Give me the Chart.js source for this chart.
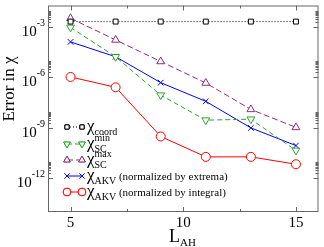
<!DOCTYPE html>
<html>
<head>
<meta charset="utf-8">
<script src="https://cdn.jsdelivr.net/npm/chart.js@4"></script>
<style>
  html, body { margin: 0; padding: 0; background: #fff; }
  #wrap { width: 324px; height: 247px; }
</style>
</head>
<body>
<div id="wrap"><canvas id="errChart"></canvas></div>
<script>
// data
const lah = [5, 7, 9, 11, 13, 15];
const errCoord = [2.1e-3, 2.1e-3, 2.1e-3, 2.1e-3, 2.1e-3, 2.1e-3];
const errScMin = [9.5e-4, 1.7e-5, 8.9e-8, 2.9e-9, 3.3e-9, 4.6e-11];
const errScMax = [3.3e-3, 1.7e-4, 8.9e-6, 4.7e-7, 1.26e-8, 1.07e-9];
const errAkvExt = [1.3e-4, 1.7e-5, 4.9e-7, 3.8e-8, 1.0e-9, 8.9e-11];
const errAkvInt = [1.07e-6, 2.6e-7, 3.1e-10, 1.9e-11, 1.9e-11, 6.9e-12];

const xMajor = [5, 10, 15];
const xMinor = [7.5, 12.5];
const yMajorExp = [-3, -6, -9, -12];

const SERIF = "'Liberation Serif', 'DejaVu Serif', serif";
const GREEN = '#2aa52a';
const PURPLE = '#8c2d80';

function pts(ys) {
    return lah.map((x, i) => ({ x: x, y: ys[i] }));
}

const series = [
    { data: errCoord, color: '#000', dash: [1, 2], style: 'rect', r: 3.5, rot: 0 },
    { data: errScMin, color: GREEN, dash: [5, 3], style: 'triangle', r: 4.5, rot: 180 },
    { data: errScMax, color: PURPLE, dash: [6, 3], style: 'triangle', r: 4.5, rot: 0 },
    { data: errAkvExt, color: '#0000ff', dash: [], style: 'crossRot', r: 4, rot: 0 },
    { data: errAkvInt, color: '#ff0000', dash: [], style: 'circle', r: 4.5, rot: 0 }
];

function font(size) {
    return size + 'px ' + SERIF;
}

// draw a run of text pieces: {t, size, dy} or {stack: [sup, sub], size}
function drawRich(ctx, parts, x, y) {
    ctx.textBaseline = 'alphabetic';
    ctx.textAlign = 'left';
    for (const p of parts) {
        ctx.font = font(p.size);
        if (p.stack) {
            const w1 = ctx.measureText(p.stack[0]).width;
            const w2 = ctx.measureText(p.stack[1]).width;
            ctx.fillText(p.stack[0], x, y - 7);
            ctx.fillText(p.stack[1], x, y + 4);
            x += Math.max(w1, w2);
            continue;
        }
        ctx.fillText(p.t, x, y + (p.dy || 0));
        x += ctx.measureText(p.t).width;
    }
}

const legendRows = [
    [{ t: 'χ', size: 17 }, { t: 'coord', size: 10, dy: 4 }],
    [{ t: 'χ', size: 17 }, { stack: ['min', 'SC'], size: 10 }],
    [{ t: 'χ', size: 17 }, { stack: ['max', 'SC'], size: 10 }],
    [{ t: 'χ', size: 17 }, { t: 'AKV', size: 10, dy: 4 }, { t: ' (normalized by extrema)', size: 11 }],
    [{ t: 'χ', size: 17 }, { t: 'AKV', size: 10, dy: 4 }, { t: ' (normalized by integral)', size: 11 }]
];

const decor = {
    id: 'decor',
    afterDraw(chart) {
        const ctx = chart.ctx;
        const a = chart.chartArea;
        const xs = chart.scales.x, ys = chart.scales.y;
        ctx.save();
        ctx.strokeStyle = '#666';
        ctx.lineWidth = 1;
        ctx.strokeRect(a.left + 0.5, a.top + 0.5, a.right - a.left - 1, a.bottom - a.top - 1);

        // x ticks, top and bottom, pointing inward
        ctx.beginPath();
        for (const v of xMajor.concat(xMinor)) {
            const px = Math.round(xs.getPixelForValue(v)) + 0.5;
            const len = xMajor.includes(v) ? 5 : 3;
            ctx.moveTo(px, a.bottom); ctx.lineTo(px, a.bottom - len);
            ctx.moveTo(px, a.top); ctx.lineTo(px, a.top + len);
        }
        // y ticks, left and right
        for (const e of yMajorExp) {
            const py = Math.round(ys.getPixelForValue(Math.pow(10, e))) + 0.5;
            ctx.moveTo(a.left, py); ctx.lineTo(a.left + 5, py);
            ctx.moveTo(a.right, py); ctx.lineTo(a.right - 5, py);
            for (let k = 2; k <= 9; k++) {
                const pm = Math.round(ys.getPixelForValue(k * Math.pow(10, e))) + 0.5;
                ctx.moveTo(a.left, pm); ctx.lineTo(a.left + 3, pm);
                ctx.moveTo(a.right, pm); ctx.lineTo(a.right - 3, pm);
            }
        }
        ctx.stroke();

        ctx.fillStyle = '#000';
        // x tick labels
        ctx.font = font(15);
        ctx.textAlign = 'center';
        ctx.textBaseline = 'top';
        for (const v of xMajor) {
            ctx.fillText(String(v), xs.getPixelForValue(v), a.bottom + 4);
        }
        // y tick labels 10^e
        for (const e of yMajorExp) {
            const py = ys.getPixelForValue(Math.pow(10, e));
            ctx.font = font(10);
            const sup = '-' + Math.abs(e);
            const ws = ctx.measureText(sup).width;
            ctx.font = font(15);
            const wb = ctx.measureText('10').width;
            const x0 = a.left - 3 - ws - wb;
            ctx.textAlign = 'left';
            ctx.textBaseline = 'alphabetic';
            ctx.fillText('10', x0, py + 9);
            ctx.font = font(10);
            ctx.fillText(sup, x0 + wb, py - 1);
        }

        // axis titles
        drawRich(ctx, [{ t: 'L', size: 18 }, { t: 'AH', size: 11, dy: 4 }], 169, 242);
        ctx.save();
        ctx.translate(14, 89);
        ctx.rotate(-Math.PI / 2);
        ctx.font = font(17);
        const tw = ctx.measureText('Error in χ').width;
        ctx.fillText('Error in χ', -tw / 2, 0);
        ctx.restore();

        // legend
        const rowY = [127, 144, 160, 176, 192];
        series.forEach((s, i) => {
            const y = rowY[i];
            ctx.save();
            ctx.strokeStyle = s.color;
            ctx.lineWidth = 1;
            ctx.setLineDash(s.dash);
            ctx.beginPath();
            ctx.moveTo(67, y); ctx.lineTo(82, y);
            ctx.stroke();
            ctx.setLineDash([]);
            const opt = { pointStyle: s.style, radius: s.r * 0.85, rotation: s.rot, borderWidth: 1 };
            ctx.fillStyle = '#fff';
            for (const mx of [67, 82]) {
                Chart.helpers.drawPoint(ctx, opt, mx, y);
                ctx.fill();
                ctx.stroke();
            }
            ctx.restore();
            ctx.fillStyle = '#000';
            drawRich(ctx, legendRows[i], 87, y + 4);
        });
        ctx.restore();
    }
};

new Chart(document.getElementById('errChart'), {
    type: 'line',
    data: {
        datasets: series.map(s => ({
            data: pts(s.data),
            borderColor: s.color,
            backgroundColor: '#fff',
            borderWidth: 1,
            borderDash: s.dash,
            pointStyle: s.style,
            pointRadius: s.r,
            pointRotation: s.rot,
            pointBorderColor: s.color,
            pointBackgroundColor: '#fff',
            pointBorderWidth: 1,
            tension: 0,
            fill: false
        }))
    },
    options: {
        responsive: true,
        maintainAspectRatio: false,
        animation: false,
        events: [],
        layout: { padding: { left: 48, right: 5, top: 1, bottom: 35 } },
        plugins: {
            legend: { display: false },
            tooltip: { enabled: false }
        },
        scales: {
            x: { type: 'linear', min: 4, max: 16, display: false },
            y: { type: 'logarithmic', min: 1e-14, max: 1.9e-2, display: false }
        }
    },
    plugins: [decor]
});
</script>
</body>
</html>
